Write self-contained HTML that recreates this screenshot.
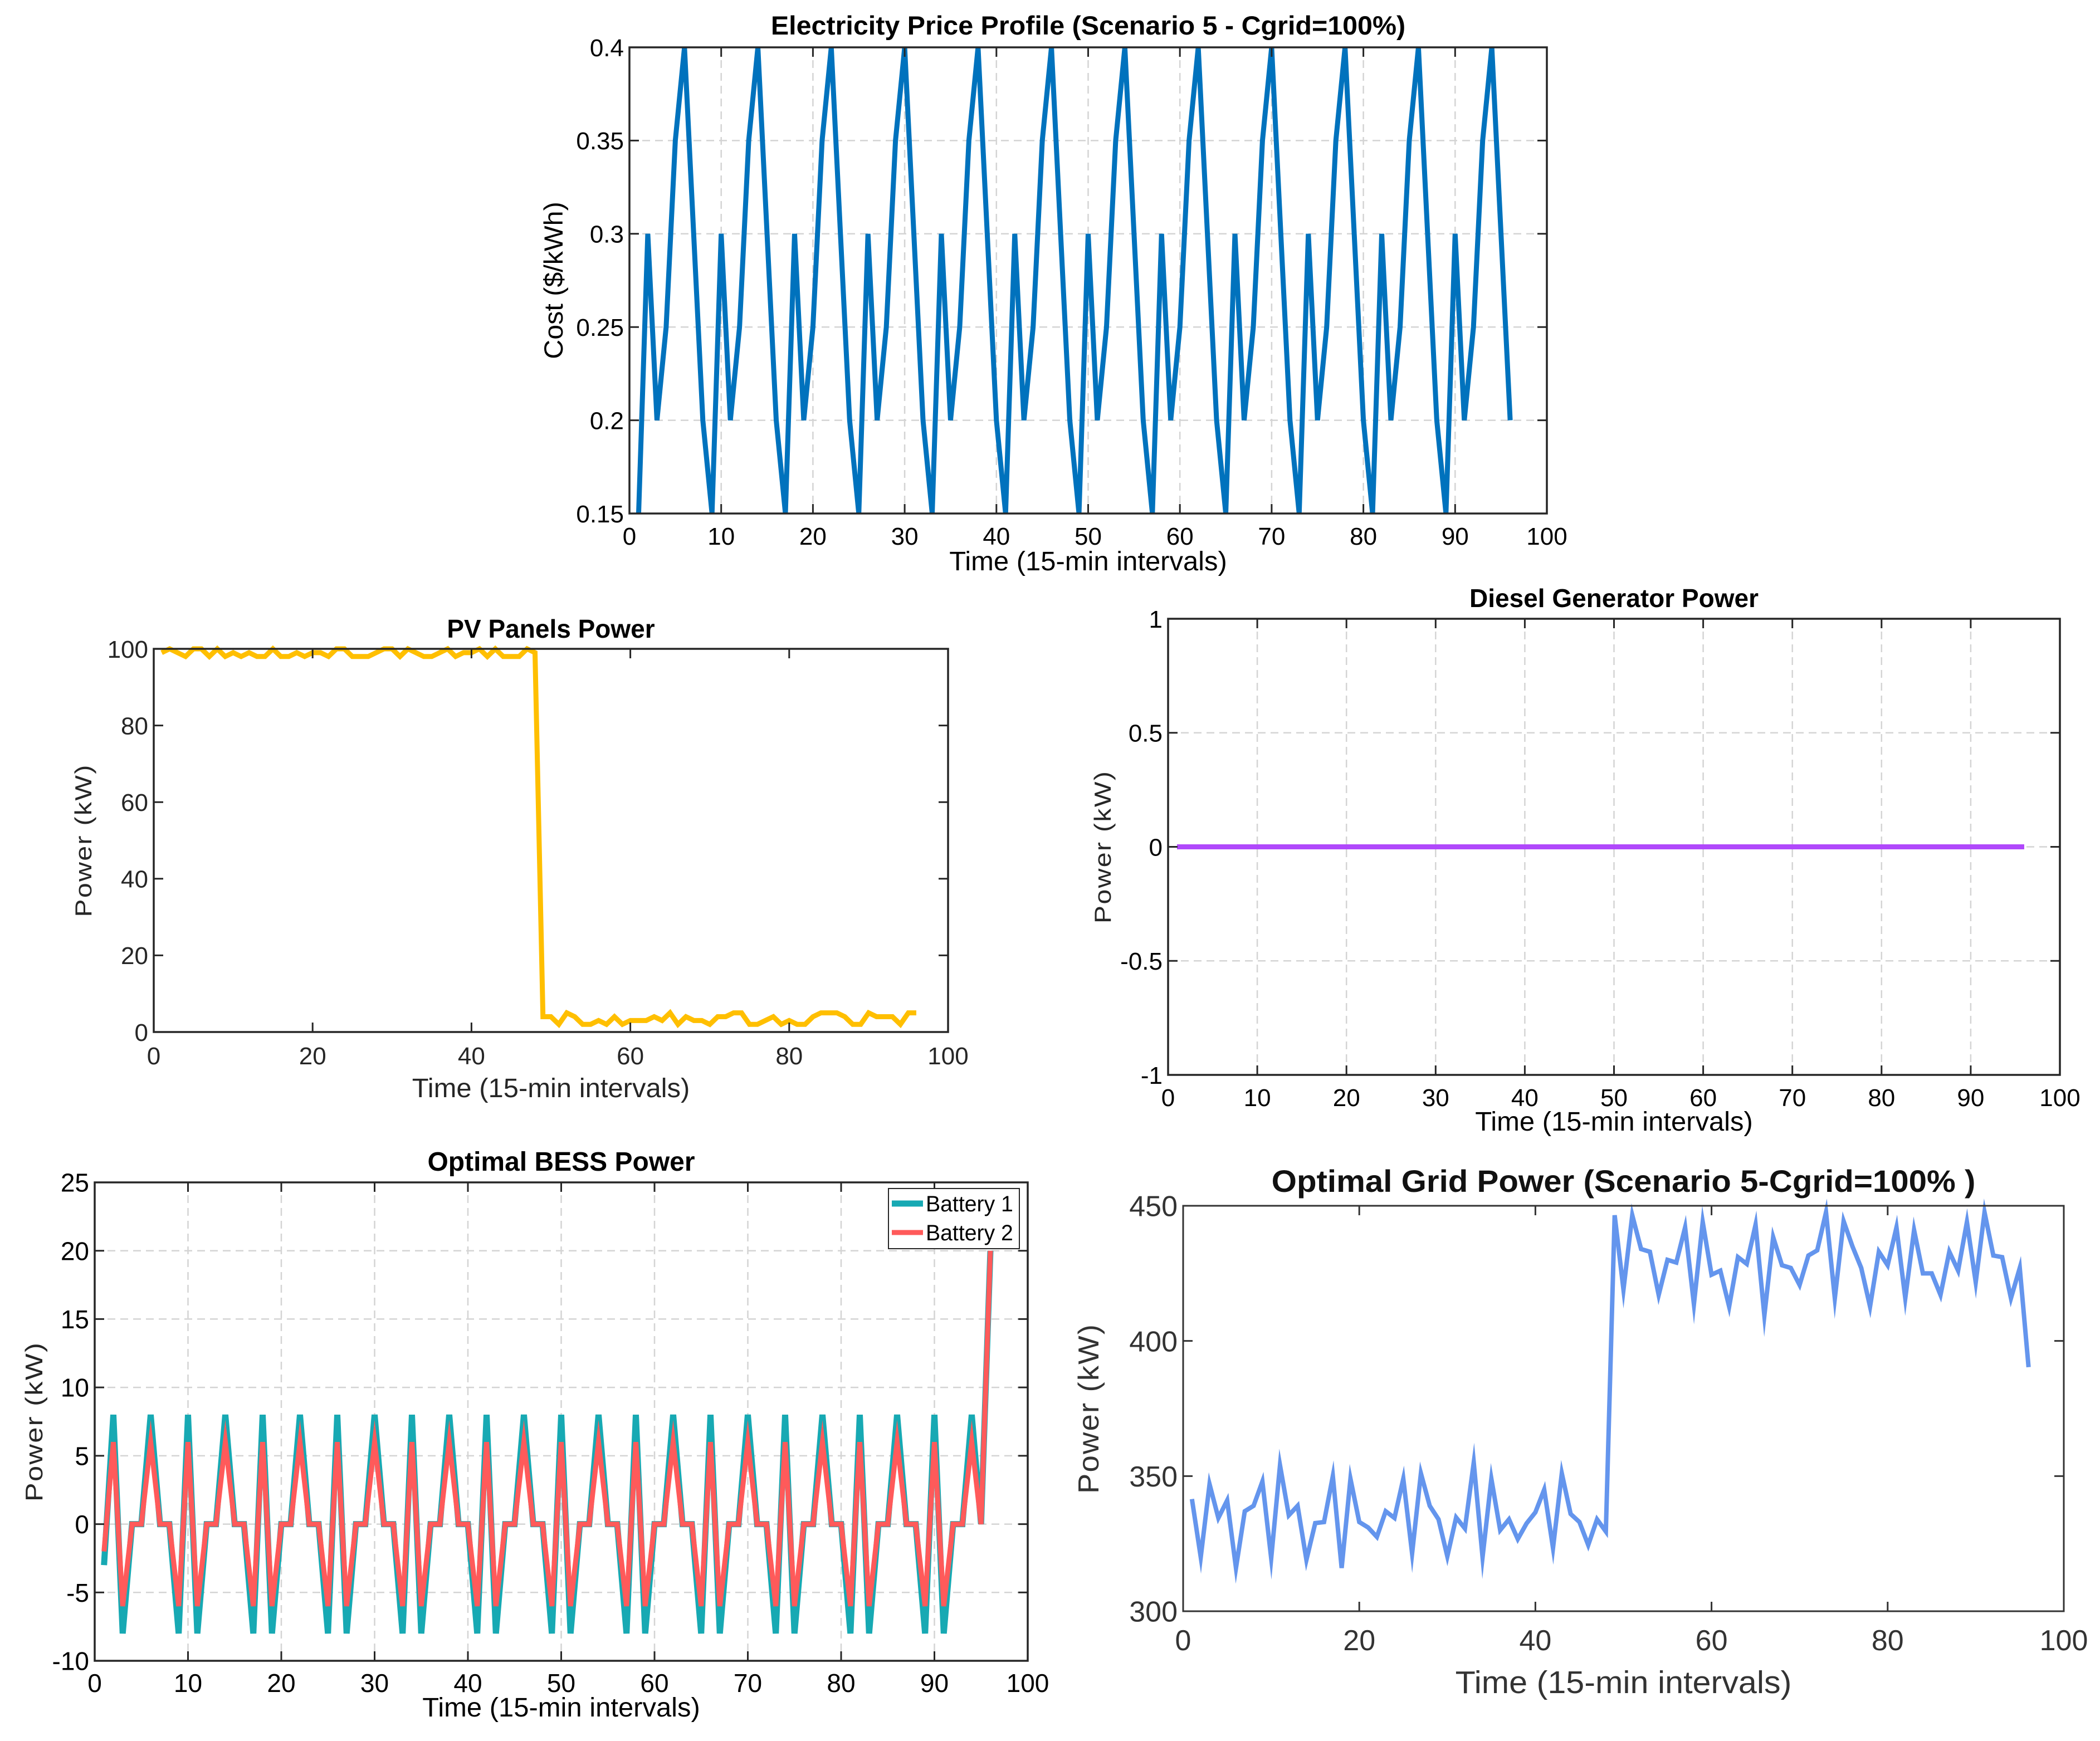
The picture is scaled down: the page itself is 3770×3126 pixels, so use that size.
<!DOCTYPE html>
<html><head><meta charset="utf-8"><title>Microgrid results</title>
<style>html,body{margin:0;padding:0;background:#fff;}svg{display:block;}</style></head>
<body>
<svg id="fig" xmlns="http://www.w3.org/2000/svg" width="3770" height="3126" viewBox="0 0 3770 3126"></svg>
<script>
const timeSteps = Array.from({length:96},(_,i)=>i+1);
const priceValues = [0.15,0.3,0.2,0.25,0.35,0.4,0.3,0.2, 0.15,0.3,0.2,0.25,0.35,0.4,0.3,0.2, 0.15,0.3,0.2,0.25,0.35,0.4,0.3,0.2, 0.15,0.3,0.2,0.25,0.35,0.4,0.3,0.2, 0.15,0.3,0.2,0.25,0.35,0.4,0.3,0.2, 0.15,0.3,0.2,0.25,0.35,0.4,0.3,0.2, 0.15,0.3,0.2,0.25,0.35,0.4,0.3,0.2, 0.15,0.3,0.2,0.25,0.35,0.4,0.3,0.2, 0.15,0.3,0.2,0.25,0.35,0.4,0.3,0.2, 0.15,0.3,0.2,0.25,0.35,0.4,0.3,0.2, 0.15,0.3,0.2,0.25,0.35,0.4,0.3,0.2, 0.15,0.3,0.2,0.25,0.35,0.4,0.3,0.2];
const pvValues = [99,100,99,98,100,100,98,100,98,99,98,99,98,98,100,98,98,99,98,99,99,98,100,100,98,98,98,99,100,100,98,100,99,98,98,99,100,98,99,99,100,98,100,98,98,98,100,99,4,4,2,5,4,2,2,3,2,4,2,3,3,3,4,3,5,2,4,3,3,2,4,4,5,5,2,2,3,4,2,3,2,2,4,5,5,5,4,2,2,5,4,4,4,2,5,5];
const dieselValues = [0,0,0,0,0,0,0,0,0,0,0,0,0,0,0,0,0,0,0,0,0,0,0,0,0,0,0,0,0,0,0,0,0,0,0,0,0,0,0,0,0,0,0,0,0,0,0,0,0,0,0,0,0,0,0,0,0,0,0,0,0,0,0,0,0,0,0,0,0,0,0,0,0,0,0,0,0,0,0,0,0,0,0,0,0,0,0,0,0,0,0,0,0,0,0,0];
const battery1Values = [-3, 8,-8,0,0,8,0,0,-8, 8,-8,0,0,8,0,0,-8, 8,-8,0,0,8,0,0,-8, 8,-8,0,0,8,0,0,-8, 8,-8,0,0,8,0,0,-8, 8,-8,0,0,8,0,0,-8, 8,-8,0,0,8,0,0,-8, 8,-8,0,0,8,0,0,-8, 8,-8,0,0,8,0,0,-8, 8,-8,0,0,8,0,0,-8, 8,-8,0,0,8,0,0,-8, 8,-8,0,0,8,0, 20];
const battery2Values = [-2, 6,-6,0,0,6,0,0,-6, 6,-6,0,0,6,0,0,-6, 6,-6,0,0,6,0,0,-6, 6,-6,0,0,6,0,0,-6, 6,-6,0,0,6,0,0,-6, 6,-6,0,0,6,0,0,-6, 6,-6,0,0,6,0,0,-6, 6,-6,0,0,6,0,0,-6, 6,-6,0,0,6,0,0,-6, 6,-6,0,0,6,0,0,-6, 6,-6,0,0,6,0,0,-6, 6,-6,0,0,6,0, 20];
const gridValues = [341.5,320,347,334.5,341,316,337,339,348,319.6,354,335.5,339,319,332.6,333,350,316,349,333,331,327.5,337,334.5,349,321.4,351,339,334,320.3,334.7,330.6,355,320,349,330,334,326.7,332.5,336.6,345,323.4,351,336,333,324.5,334,329.5,446.5,419,446.5,434,433,417,430,429,442,413.6,444,424.5,426,412.7,431,428.5,443,409.4,438.4,428,427,420.7,431.6,433.5,447.6,415.8,444.3,435,427,412.7,433,428,442,415.8,441,425,425,417,433,426,444,421.7,447.6,431.6,431,415.8,427,390.3];
const priceYTicks = [0.15,0.2,0.25,0.3,0.35,0.4];
const xTicks10 = [0,10,20,30,40,50,60,70,80,90,100];
const xTicks20 = [0,20,40,60,80,100];
const pvYTicks = [0,20,40,60,80,100];
const dieselYTicks = [-1,-0.5,0,0.5,1];
const bessYTicks = [-10,-5,0,5,10,15,20,25];
const gridYTicks = [300,350,400,450];

const NS='http://www.w3.org/2000/svg';
const svg=document.getElementById('fig');
function mk(tag,attrs,parent){const e=document.createElementNS(NS,tag);for(const k in attrs)e.setAttribute(k,attrs[k]);(parent||svg).appendChild(e);return e;}
function txt(parent,x,y,s,o){
  const e=mk('text',{x:0,y:0,'font-family':'"Liberation Sans", sans-serif','font-size':o.size,'text-anchor':o.anchor||'middle','font-weight':o.weight||'normal',fill:o.fill||'#000',
    transform:`translate(${x},${y}) rotate(${o.rot||0}) scale(${o.sx||1},1)`},parent);
  if(o.ls)e.setAttribute('letter-spacing',o.ls);
  e.textContent=s;return e;
}
function fmt(v){return String(Number(v.toFixed(2)));}
function chart(c){
  const g=mk('g',{});
  
  
  const sx=v=>c.L+(v-c.x0)/(c.x1-c.x0)*(c.R-c.L);
  const sy=v=>c.B-(v-c.y0)/(c.y1-c.y0)*(c.B-c.T);
  const ax=c.axisColor||'#262626';
  if(c.grid){
    c.xt.forEach(v=>{if(v>c.x0&&v<c.x1){const l=mk('line',{x1:sx(v),x2:sx(v),y1:c.T,y2:c.B,stroke:'#d4d4d4','stroke-width':2.5,'stroke-dasharray':'14,9'},g);}});
    c.yt.forEach(v=>{if(v>c.y0&&v<c.y1){const l=mk('line',{x1:c.L,x2:c.R,y1:sy(v),y2:sy(v),stroke:'#d4d4d4','stroke-width':2.5,'stroke-dasharray':'14,9'},g);}});
  }
  c.series.forEach(s=>{
    const p=mk('polyline',{points:s.y.map((v,i)=>sx(timeSteps[i])+','+sy(v)).join(' '),fill:'none',stroke:s.color,'stroke-width':s.w||9,'stroke-linejoin':'miter','stroke-miterlimit':10},g);
    
    
  });
  const box=mk('rect',{x:c.L,y:c.T,width:c.R-c.L,height:c.B-c.T,fill:'none',stroke:ax,'stroke-width':c.aw||3.5},g);
  
  
  const tl=17;
  c.xt.forEach(v=>{
    const x=sx(v);
    mk('line',{x1:x,x2:x,y1:c.B,y2:c.B-tl,stroke:ax,'stroke-width':3},g);
    mk('line',{x1:x,x2:x,y1:c.T,y2:c.T+tl,stroke:ax,'stroke-width':3},g);
    const t=txt(g,x,c.B+c.xtOff,String(v),{size:c.tick,fill:c.tickFill,sx:c.tickSx});
    
    
  });
  c.yt.forEach(v=>{
    const y=sy(v);
    mk('line',{x1:c.L,x2:c.L+tl,y1:y,y2:y,stroke:ax,'stroke-width':3},g);
    mk('line',{x1:c.R,x2:c.R-tl,y1:y,y2:y,stroke:ax,'stroke-width':3},g);
    const t=txt(g,c.L-10,y+c.tick*0.36,fmt(v),{size:c.tick,anchor:'end',fill:c.tickFill,sx:c.tickSx});
    
    
  });
  const ti=txt(g,(c.L+c.R)/2,c.titleY,c.title,{size:c.titleSize,weight:'bold',fill:c.titleFill,sx:c.titleSx});
  
  
  const xl=txt(g,(c.L+c.R)/2,c.xlY,'Time (15-min intervals)',{size:c.xlSize,fill:c.tickFill,sx:c.xlSx});
  
  
  const yl=txt(g,c.ylX,(c.T+c.B)/2,c.ylabel,{size:c.ylSize,rot:-90,sx:c.ylSx||1,fill:c.ylFill||'#262626',ls:c.ylLs});
  
  
  return {g,sx,sy};
}
chart({name:'price-chart',L:1130,R:2777,T:85,B:922,x0:0,x1:100,y0:0.15,y1:0.4,xt:xTicks10,yt:priceYTicks,grid:true,tick:44,tickSx:1,xtOff:56,
  title:'Electricity Price Profile (Scenario 5 - Cgrid=100%)',titleY:62,titleSize:47,titleSx:1.03,xlY:1024,xlSize:48,xlSx:1.02,ylabel:'Cost ($/kWh)',ylX:1010,ylSize:47,ylSx:1.03,ylFill:'#000',
  series:[{name:'price-line',y:priceValues,color:'#0072BD',w:9}]});
chart({name:'pv-chart',L:276,R:1702,T:1165,B:1853,x0:0,x1:100,y0:0,y1:100,xt:xTicks20,yt:pvYTicks,grid:false,tick:44,tickSx:1,xtOff:58,
  title:'PV Panels Power',titleY:1145,titleSize:46,titleSx:1,xlY:1970,xlSize:48,xlSx:1.02,tickFill:'#262626',ylabel:'Power (kW)',ylX:164,ylSize:42,ylSx:1.15,ylLs:2,
  series:[{name:'pv-power-line',y:pvValues,color:'#FFBF00',w:9}]});
chart({name:'diesel-chart',L:2097,R:3698,T:1111,B:1930,x0:0,x1:100,y0:-1,y1:1,xt:xTicks10,yt:dieselYTicks,grid:true,tick:44,tickSx:1,xtOff:56,
  title:'Diesel Generator Power',titleY:1090,titleSize:46,titleSx:1,xlY:2030,xlSize:48,xlSx:1.02,ylabel:'Power (kW)',ylX:1994,ylSize:42,ylSx:1.15,ylLs:2,
  series:[{name:'diesel-power-line',y:dieselValues,color:'#B048FB',w:9}]});
chart({name:'bess-chart',L:170,R:1845,T:2123,B:2982,x0:0,x1:100,y0:-10,y1:25,xt:xTicks10,yt:bessYTicks,grid:true,tick:46,tickSx:1,xtOff:56,
  title:'Optimal BESS Power',titleY:2102,titleSize:48,titleSx:1,xlY:3082,xlSize:48,xlSx:1.02,ylabel:'Power (kW)',ylX:76,ylSize:44,ylSx:1.15,ylLs:2,
  series:[{name:'battery-1-line',y:battery1Values,color:'#17A9B3',w:11},{name:'battery-2-line',y:battery2Values,color:'#FF5A5A',w:9}]});
chart({name:'grid-chart',L:2124,R:3705,T:2165,B:2893,x0:0,x1:100,y0:300,y1:450,xt:xTicks20,yt:gridYTicks,grid:false,tick:52,tickSx:1,xtOff:70,axisColor:'#333',aw:3,tickFill:'#333',
  title:'Optimal Grid Power (Scenario 5-Cgrid=100%  )',titleY:2140,titleSize:56,titleSx:1.04,titleFill:'#111',xlY:3040,xlSize:57,xlSx:1.04,ylabel:'Power (kW)',ylX:1972,ylSize:52,ylSx:1.05,ylLs:2,ylFill:'#333',
  series:[{name:'grid-power-line',y:gridValues,color:'#6495ED',w:8}]});

// BESS legend
const lg=mk('g',{});


mk('rect',{x:1595,y:2134,width:235,height:108,fill:'#fff',stroke:'#262626','stroke-width':2},lg);
const e1=mk('line',{x1:1601,x2:1657,y1:2161,y2:2161,stroke:'#17A9B3','stroke-width':11},lg);


const t1=txt(lg,1662,2175,'Battery 1',{size:40,anchor:'start',sx:0.98});


const e2=mk('line',{x1:1601,x2:1657,y1:2213,y2:2213,stroke:'#FF5A5A','stroke-width':9},lg);


const t2=txt(lg,1662,2227,'Battery 2',{size:40,anchor:'start',sx:0.98});


</script>
</body></html>
